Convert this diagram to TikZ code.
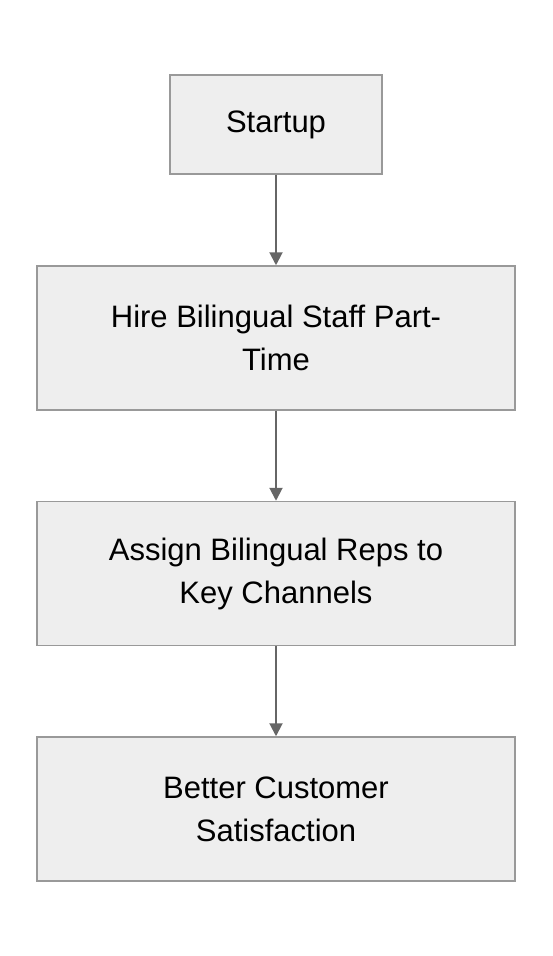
\documentclass[tikz,border=0pt]{standalone}
\usepackage{fontspec}
\setmainfont{Liberation Sans}
\usetikzlibrary{arrows.meta}
\definecolor{boxfill}{HTML}{EEEEEE}
\definecolor{boxline}{HTML}{999999}
\definecolor{arrowline}{HTML}{666666}
\begin{document}
\begin{tikzpicture}[x=1pt,y=-1pt,>={Triangle[length=13pt,width=13pt]}]
    \tikzstyle{stepbox}=[draw=boxline,fill=boxfill,line width=1.5pt,align=center,font=\fontsize{31}{43}\selectfont,inner sep=0pt]
    \tikzstyle{flow}=[->,draw=arrowline,fill=arrowline,line width=2pt]
    \useasboundingbox (0,0) rectangle (552,956);
    \node at (276, 124.5) (startup) [stepbox,minimum width=212pt,minimum height=99pt] {Startup};
    \node at (276, 338)   (hire)    [stepbox,minimum width=478pt,minimum height=144pt] {Hire Bilingual Staff Part-\\Time};
    \node at (276, 573.5) (assign)  [stepbox,minimum width=478pt,minimum height=144pt] {Assign Bilingual Reps to\\Key Channels};
    \node at (276, 809)   (better)  [stepbox,minimum width=478pt,minimum height=144pt] {Better Customer\\Satisfaction};

    \draw[flow] (startup) to (hire);
    \draw[flow] (hire) to (assign);
    \draw[flow] (assign) to (better);
\end{tikzpicture}
\end{document}
